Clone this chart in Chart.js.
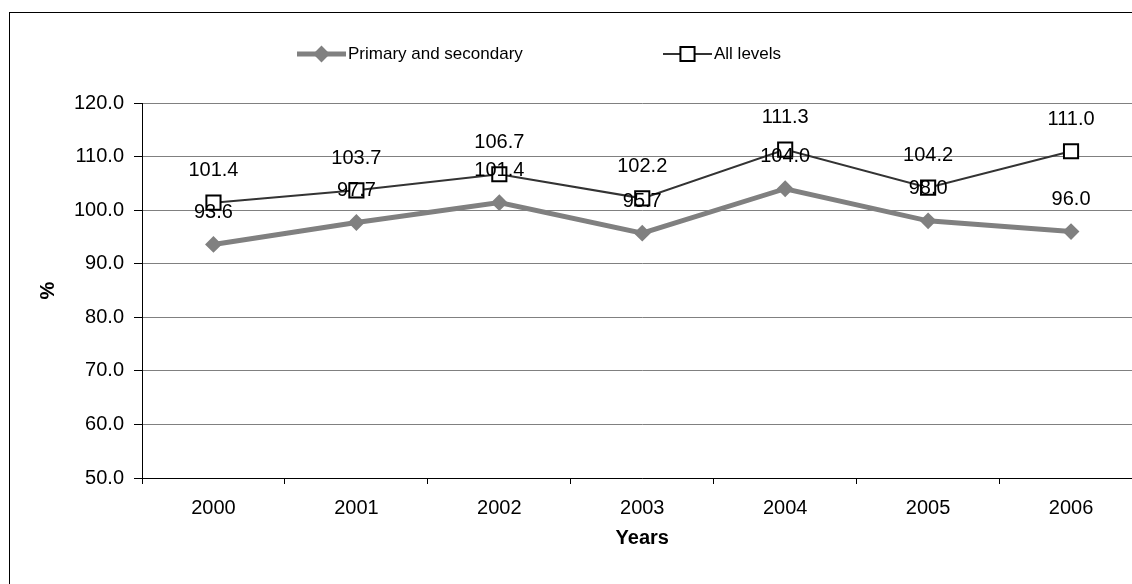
<!DOCTYPE html>
<html>
<head>
<meta charset="utf-8">
<script src="https://cdn.jsdelivr.net/npm/chart.js@4.4.0/dist/chart.umd.min.js"></script>
<style>
  html, body { margin: 0; padding: 0; background: #fff; overflow: hidden; }
  #frame { position: absolute; left: 9px; top: 12px; width: 1200px; height: 700px; border: 1px solid #000; }
  #wrap { position: absolute; left: 0; top: 0; width: 1160px; height: 584px; }
</style>
</head>
<body>
<div id="frame"></div>
<div id="wrap"><canvas id="chartCanvas"></canvas></div>
<script>
const years = ['2000', '2001', '2002', '2003', '2004', '2005', '2006'];
const primarySecondary = [93.6, 97.7, 101.4, 95.7, 104.0, 98.0, 96.0];
const allLevels = [101.4, 103.7, 106.7, 102.2, 111.3, 104.2, 111.0];
const yMin = 50, yMax = 120, yStep = 10;

const FONT = '"Liberation Sans", Arial, sans-serif';

// value labels above each point
const valueLabels = {
  id: 'valueLabels',
  afterDatasetsDraw(chart) {
    const ctx = chart.ctx;
    ctx.save();
    ctx.font = '20px ' + FONT;
    ctx.fillStyle = '#000';
    ctx.textAlign = 'center';
    ctx.textBaseline = 'middle';
    chart.data.datasets.forEach((ds, i) => {
      const meta = chart.getDatasetMeta(i);
      meta.data.forEach((pt, j) => {
        ctx.fillText(ds.data[j].toFixed(1), pt.x, pt.y - 32);
      });
    });
    ctx.restore();
  }
};

// legend drawn like the excel one: line + marker + text
const lineLegend = {
  id: 'lineLegend',
  afterDraw(chart) {
    const ctx = chart.ctx;
    const items = [{ x: 297, ds: chart.data.datasets[0] }, { x: 663, ds: chart.data.datasets[1] }];
    const y = 54;
    ctx.save();
    items.forEach(it => {
      const ds = it.ds;
      ctx.strokeStyle = ds.borderColor;
      ctx.lineWidth = ds.borderWidth;
      ctx.beginPath();
      ctx.moveTo(it.x, y);
      ctx.lineTo(it.x + 49, y);
      ctx.stroke();
      const cx = it.x + 24.5;
      ctx.fillStyle = ds.pointBackgroundColor;
      ctx.strokeStyle = ds.pointBorderColor;
      ctx.lineWidth = ds.pointBorderWidth;
      ctx.beginPath();
      if (ds.pointStyle === 'rectRot') {
        const r = ds.pointRadius;
        ctx.moveTo(cx, y - r); ctx.lineTo(cx + r, y); ctx.lineTo(cx, y + r); ctx.lineTo(cx - r, y);
        ctx.closePath();
      } else {
        const h = ds.pointRadius * Math.SQRT1_2;
        ctx.rect(cx - h, y - h, 2 * h, 2 * h);
      }
      ctx.fill();
      ctx.stroke();
      ctx.fillStyle = '#000';
      ctx.font = '17px ' + FONT;
      ctx.textAlign = 'left';
      ctx.textBaseline = 'middle';
      ctx.fillText(ds.label, it.x + 51, y);
    });
    ctx.restore();
  }
};

const ctx = document.getElementById('chartCanvas').getContext('2d');
new Chart(ctx, {
  type: 'line',
  data: {
    labels: years,
    datasets: [
      {
        label: 'Primary and secondary',
        data: primarySecondary,
        borderColor: '#808080',
        borderWidth: 5,
        pointStyle: 'rectRot',
        pointRadius: 7,
        pointBackgroundColor: '#808080',
        pointBorderColor: '#808080',
        pointBorderWidth: 2,
        tension: 0
      },
      {
        label: 'All levels',
        data: allLevels,
        borderColor: '#333333',
        borderWidth: 2,
        pointStyle: 'rect',
        pointRadius: 10,
        pointBackgroundColor: '#ffffff',
        pointBorderColor: '#000000',
        pointBorderWidth: 2,
        tension: 0
      }
    ]
  },
  options: {
    responsive: true,
    maintainAspectRatio: false,
    animation: false,
    layout: { padding: { top: 103, right: 17.5, left: 0, bottom: 0 } },
    plugins: {
      legend: { display: false },
      tooltip: { enabled: false }
    },
    scales: {
      x: {
        offset: true,
        grid: { offset: true, drawOnChartArea: false, drawTicks: true, tickLength: 6, tickColor: '#000', color: '#000' },
        border: { color: '#000', width: 1 },
        ticks: { font: { family: FONT, size: 20 }, color: '#000', padding: 12, maxRotation: 0 },
        title: { display: true, text: 'Years', color: '#000', font: { family: FONT, size: 20, weight: 'bold' }, padding: { top: 0, bottom: 34 } },
        afterFit(s) { s.height = 106; }
      },
      y: {
        min: yMin,
        max: yMax,
        grid: { color: '#808080', tickColor: '#000', tickLength: 8 },
        border: { color: '#000', width: 1 },
        ticks: { stepSize: yStep, font: { family: FONT, size: 20 }, color: '#000', padding: 10, callback: v => v.toFixed(1) },
        title: { display: true, text: '%', color: '#000', font: { family: FONT, size: 20, weight: 'bold' }, padding: { top: 36, bottom: 0 } },
        afterFit(s) { s.width = 142; }
      }
    }
  },
  plugins: [valueLabels, lineLegend]
});
</script>
</body>
</html>
